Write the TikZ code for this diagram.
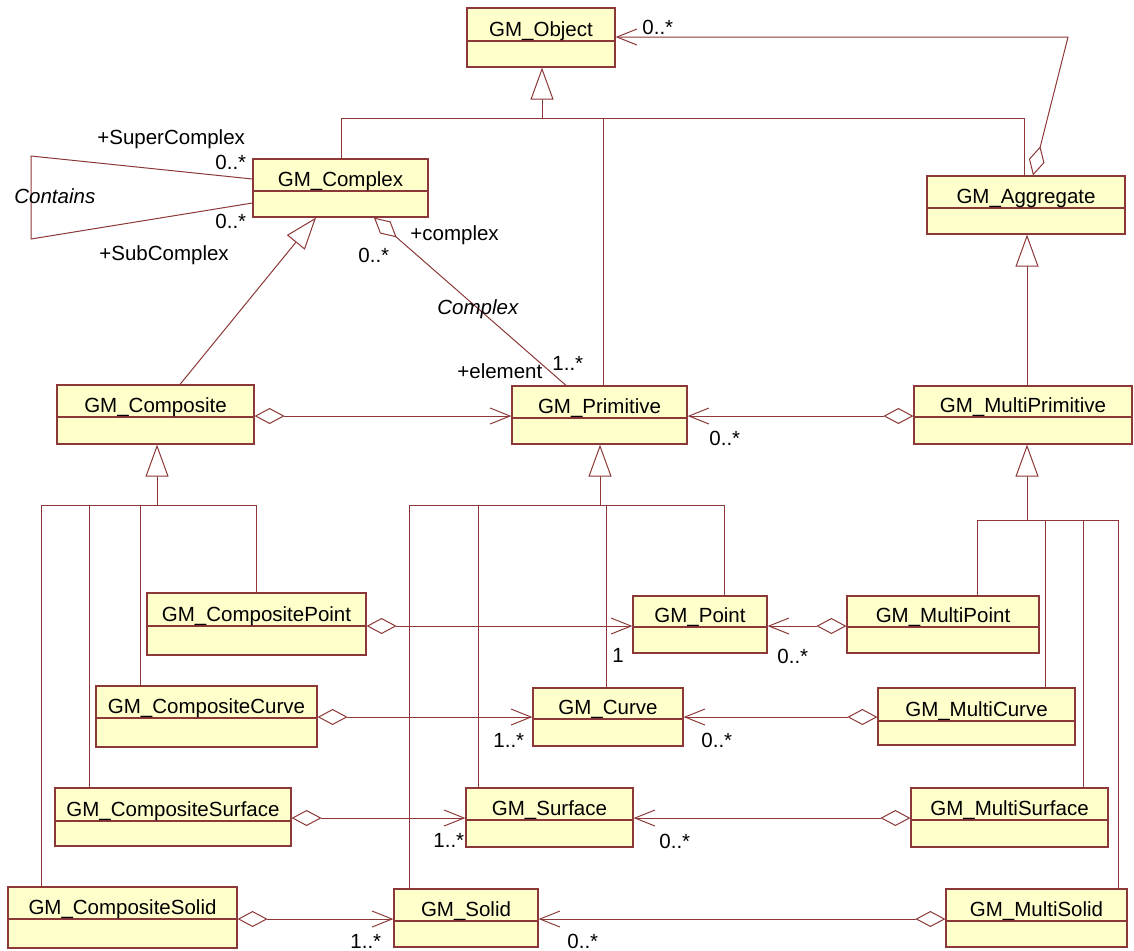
\documentclass[tikz,border=0pt]{standalone}
\usepackage{fontspec}
\setmainfont{Liberation Sans}
\usetikzlibrary{arrows.meta,fit,calc}
\definecolor{umlred}{RGB}{140,56,56}
\definecolor{umlfill}{RGB}{255,255,204}
\tikzset{
  cls/.style={draw=umlred, fill=umlfill, line width=0.6pt, inner sep=0pt, rectangle},
  divider/.style={draw=umlred, line width=0.6pt},
  rel/.style={draw=umlred, line width=0.5pt},
  gen/.style={rel, -{Triangle[length=16pt,width=11.5pt,fill=white]}},
  aggnav/.style={rel, {Diamond[length=15pt,width=8pt,fill=white]}-{Straight Barb[length=10pt,width=8pt]}},
  aggonly/.style={rel, {Diamond[length=15pt,width=8pt,fill=white]}-},
  title/.style={font=\fontsize{10.25}{12}\selectfont, inner sep=0pt, anchor=base},
  lbl/.style={font=\fontsize{10.25}{12}\selectfont, inner sep=0pt, anchor=base west},
  ilbl/.style={lbl, font=\fontsize{10.25}{12}\selectfont\itshape},
}
\newcommand\umlbox[7]{%
  \coordinate (#1-nw) at (#2,#3);
  \coordinate (#1-se) at (#4,#5);
  \node[cls, fit=(#1-nw)(#1-se)] (#1) {};
  \draw[divider] (#1.west |- 0,#6) -- (#1.east |- 0,#6);
  \node[title] (#1-title) at (#1.north |- 0,#6-4.5) {#7};
}
\begin{document}
\begin{tikzpicture}[x=0.5pt,y=-0.5pt]
\useasboundingbox (0,0) rectangle (1134,950);

% classes
\umlbox{obj}{467}{8}{615}{67}{41}{GM\_Object}
\umlbox{cplx}{253}{159}{428}{217}{191}{GM\_Complex}
\umlbox{agg}{927}{176}{1125}{234}{208}{GM\_Aggregate}
\umlbox{comp}{57}{385}{254}{444}{417}{GM\_Composite}
\umlbox{prim}{512}{386}{687}{444}{418}{GM\_Primitive}
\umlbox{mprim}{914}{386}{1132}{444}{417}{GM\_MultiPrimitive}
\umlbox{cpoint}{147}{593}{366}{655}{626}{GM\_CompositePoint}
\umlbox{ccurve}{96}{686}{317}{747}{718}{GM\_CompositeCurve}
\umlbox{csurf}{55}{788}{291}{846}{821}{GM\_CompositeSurface}
\umlbox{csolid}{8}{887}{237}{948}{919}{GM\_CompositeSolid}
\umlbox{point}{633}{596}{767}{653}{627}{GM\_Point}
\umlbox{curve}{533}{688}{683}{746}{719}{GM\_Curve}
\umlbox{surf}{466}{788}{633}{847}{820}{GM\_Surface}
\umlbox{solid}{394}{889}{538}{947}{921}{GM\_Solid}
\umlbox{mpoint}{847}{596}{1039}{653}{627}{GM\_MultiPoint}
\umlbox{mcurve}{878}{688}{1075}{745}{721}{GM\_MultiCurve}
\umlbox{msurf}{911}{788}{1108}{847}{820}{GM\_MultiSurface}
\umlbox{msolid}{946}{889}{1127}{947}{921}{GM\_MultiSolid}

% junction coordinates
\coordinate (objbus) at (542,118);
\coordinate (compbus) at (157,505);
\coordinate (primbus) at (600,505);
\coordinate (mprimbus) at (1027,520);
\coordinate (aggbend) at (1068,37);
\coordinate (cL1) at (31,156);
\coordinate (cL2) at (31,239);

% generalisation to GM_Object
\draw[gen] (objbus) -- (obj.south -| objbus);
\draw[rel] (cplx.north -| 341,0) |- (1024,118) -- (agg.north -| 1024,0);
\draw[rel] (prim.north -| 603,0) -- (603,118);

% aggregate -> object
\draw[aggnav] (agg.north -| 1033,0) -- (aggbend) -- (obj.east |- aggbend);
\node[lbl] (l-obj) at (642,34) {0..*};

% Contains self association
\draw[rel] (cplx.west |- 0,179) -- (cL1) -- (cL2) -- (cplx.west |- 0,203);
\node[lbl] (l-super) at (97,144) {+SuperComplex};
\node[lbl] (l-sup-m) at (215,169) {0..*};
\node[ilbl] (l-contains) at (14,203) {Contains};
\node[lbl] (l-sub-m) at (215,228) {0..*};
\node[lbl] (l-sub) at (99,260) {+SubComplex};

% composite -> complex generalisation
\draw[gen] (comp.north -| 180,0) -- (cplx.south -| 316,0);

% Complex association
\draw[aggonly] (cplx.south -| 374,0) -- (prim.north -| 566,0);
\node[lbl] (l-complex) at (410,240) {+complex};
\node[lbl] (l-cplx-m) at (358,262) {0..*};
\node[ilbl] (l-Complex) at (437,314) {Complex};
\node[lbl] (l-element) at (457,378) {+element};
\node[lbl] (l-elem-m) at (552,370) {1..*};

% multiprimitive -> aggregate generalisation
\draw[gen] (mprim.north -| 1027,0) -- (agg.south -| 1027,0);

% composite -> primitive, multiprimitive -> primitive
\draw[aggnav] (comp.east |- 0,416) -- (prim.west |- 0,416);
\draw[aggnav] (mprim.west |- 0,416) -- (prim.east |- 0,416);
\node[lbl] (l-prim-m) at (709,445) {0..*};

% generalisation trees
\draw[gen] (compbus) -- (comp.south -| compbus);
\draw[rel] (cpoint.north -| 256,0) |- (41,505) -- (csolid.north -| 41,0);
\draw[rel] (89,505) -- (csurf.north -| 89,0);
\draw[rel] (140,505) -- (ccurve.north -| 140,0);

\draw[gen] (primbus) -- (prim.south -| primbus);
\draw[rel] (point.north -| 724,0) |- (409,505) -- (solid.north -| 409,0);
\draw[rel] (478,505) -- (surf.north -| 478,0);
\draw[rel] (606,505) -- (curve.north -| 606,0);

\draw[gen] (mprimbus) -- (mprim.south -| mprimbus);
\draw[rel] (mpoint.north -| 977,0) |- (1118,520) -- (msolid.north -| 1118,0);
\draw[rel] (1045,520) -- (mcurve.north -| 1045,0);
\draw[rel] (1083,520) -- (msurf.north -| 1083,0);

% aggregation rows
\draw[aggnav] (cpoint.east |- 0,626) -- (point.west |- 0,626);
\draw[aggnav] (mpoint.west |- 0,626) -- (point.east |- 0,626);
\node[lbl] (l-pt-1) at (612,662) {1};
\node[lbl] (l-pt-m) at (777,663) {0..*};

\draw[aggnav] (ccurve.east |- 0,717) -- (curve.west |- 0,717);
\draw[aggnav] (mcurve.west |- 0,717) -- (curve.east |- 0,717);
\node[lbl] (l-cv-1) at (493,747) {1..*};
\node[lbl] (l-cv-m) at (701,747) {0..*};

\draw[aggnav] (csurf.east |- 0,818) -- (surf.west |- 0,818);
\draw[aggnav] (msurf.west |- 0,818) -- (surf.east |- 0,818);
\node[lbl] (l-sf-1) at (433,847) {1..*};
\node[lbl] (l-sf-m) at (659,848) {0..*};

\draw[aggnav] (csolid.east |- 0,919) -- (solid.west |- 0,919);
\draw[aggnav] (msolid.west |- 0,919) -- (solid.east |- 0,919);
\node[lbl] (l-sd-1) at (350,948) {1..*};
\node[lbl] (l-sd-m) at (567,948) {0..*};
\end{tikzpicture}
\end{document}
